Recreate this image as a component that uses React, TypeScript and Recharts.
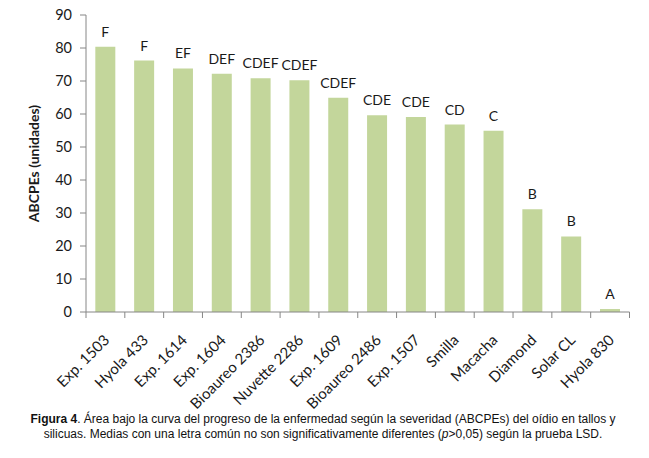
import React from 'react';
import { BarChart, Bar, XAxis, YAxis, LabelList } from 'recharts';

// ============ DATOS ============
const cultivares = [
  'Exp. 1503', 'Hyola 433', 'Exp. 1614', 'Exp. 1604', 'Bioaureo 2386', 'Nuvette 2286', 'Exp. 1609',
  'Bioaureo 2486', 'Exp. 1507', 'Smilla', 'Macacha', 'Diamond', 'Solar CL', 'Hyola 830',
];
const abcpe = [80.4, 76.2, 73.8, 72.2, 70.8, 70.2, 64.9, 59.6, 59.1, 56.8, 54.9, 31.1, 22.9, 0.9];
const letras = ['F', 'F', 'EF', 'DEF', 'CDEF', 'CDEF', 'CDEF', 'CDE', 'CDE', 'CD', 'C', 'B', 'B', 'A'];
const yTicks = [0, 10, 20, 30, 40, 50, 60, 70, 80, 90];

const data = cultivares.map((c, i) => ({ cultivar: c, valor: abcpe[i], letra: letras[i] }));

// ============ LAYOUT ============
const W = 649;
const H = 458;
const MARGIN = { top: 15, right: 19.5, bottom: 0, left: 0 };
const Y_AXIS_W = 86;
const X_AXIS_H = 146;
const BAND = (W - MARGIN.left - MARGIN.right - Y_AXIS_W) / cultivares.length;

const AXIS = '#868686';
const TEXT = '#1a1a1a';
const FONT = 'Lato, "Open Sans", sans-serif';

// tick personalizado: rayitas en los bordes de cada categoria + etiqueta a -45°
const XTick = (props: any) => {
  const { x, y, payload, index } = props;
  const ax = x + 5;
  const ay = y + 21;
  return (
    <g>
      <line x1={x - BAND / 2} y1={y - 8} x2={x - BAND / 2} y2={y - 2} stroke={AXIS} />
      {index === cultivares.length - 1 && (
        <line x1={x + BAND / 2} y1={y - 8} x2={x + BAND / 2} y2={y - 2} stroke={AXIS} />
      )}
      <text
        x={ax}
        y={ay}
        transform={`rotate(-45, ${ax}, ${ay})`}
        textAnchor="end"
        fontSize={15}
        fontFamily={FONT}
        fill={TEXT}
      >
        {payload.value}
      </text>
    </g>
  );
};

const YTitle = (props: any) => {
  const { viewBox } = props;
  const cx = viewBox.x + 33;
  const cy = viewBox.y + viewBox.height / 2;
  return (
    <text
      x={cx}
      y={cy}
      transform={`rotate(-90, ${cx}, ${cy})`}
      textAnchor="middle"
      dominantBaseline="central"
      fontSize={14}
      fontWeight={700}
      fontFamily={FONT}
      fill={TEXT}
    >
      ABCPEs (unidades)
    </text>
  );
};

export default function App() {
  return (
    <div style={{ position: 'absolute', left: 0, top: 0, width: W, height: H, background: '#fff' }}>
      <BarChart width={W} height={H} data={data} margin={MARGIN} barCategoryGap="24%">
        <XAxis
          dataKey="cultivar"
          interval={0}
          height={X_AXIS_H}
          tickLine={false}
          axisLine={{ stroke: AXIS }}
          tick={<XTick />}
        />
        <YAxis
          width={Y_AXIS_W}
          domain={[0, 90]}
          ticks={yTicks}
          interval={0}
          axisLine={{ stroke: AXIS }}
          tickLine={{ stroke: AXIS }}
          tickSize={6}
          tickMargin={8}
          tick={{ fill: TEXT, fontSize: 14.5, fontFamily: FONT }}
          label={{ content: <YTitle /> }}
        />
        <Bar dataKey="valor" fill="#C3D69B" isAnimationActive={false}>
          <LabelList
            dataKey="letra"
            position="top"
            offset={10}
            style={{ fill: TEXT, fontSize: 14, fontFamily: FONT }}
          />
        </Bar>
      </BarChart>
      <div
        style={{
          position: 'absolute',
          left: 0,
          top: 412,
          width: 646,
          textAlign: 'center',
          fontFamily: '"Liberation Sans", Arial, sans-serif',
          fontSize: 12,
          lineHeight: '15px',
          color: '#111',
        }}
      >
        <b>Figura 4</b>. Área bajo la curva del progreso de la enfermedad según la severidad (ABCPEs) del oídio en tallos y
        <br />
        silicuas. Medias con una letra común no son significativamente diferentes (<i>p</i>&gt;0,05) según la prueba LSD.
      </div>
    </div>
  );
}
